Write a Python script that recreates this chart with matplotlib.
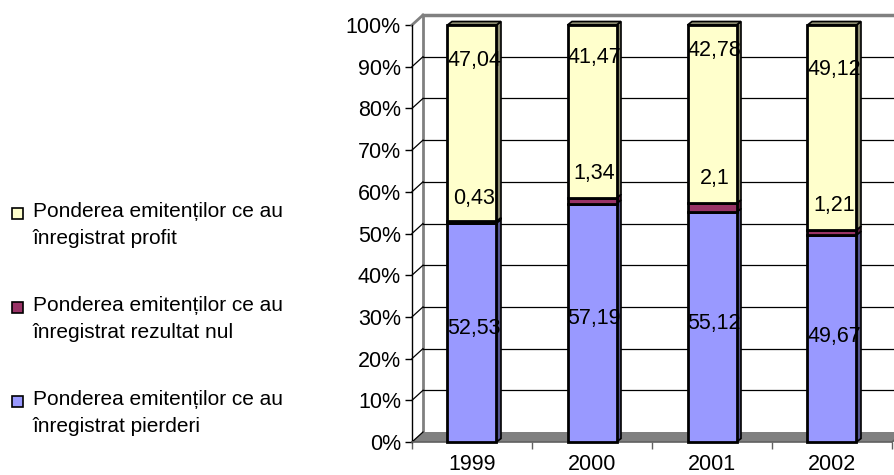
import matplotlib
matplotlib.use("Agg")
import matplotlib.pyplot as plt
from matplotlib.patches import Polygon, Rectangle

plt.rcParams["font.family"] = ["Liberation Sans", "DejaVu Sans"]

# Data
years = ["1999", "2000", "2001", "2002"]
pierderi = [52.53, 57.19, 55.12, 49.67]
nul = [0.43, 1.34, 2.1, 1.21]
profit = [47.04, 41.47, 42.78, 49.12]
series_names = [
    "Ponderea emitenților ce au\nînregistrat profit",
    "Ponderea emitenților ce au\nînregistrat rezultat nul",
    "Ponderea emitenților ce au\nînregistrat pierderi",
]
y_ticks = [0, 10, 20, 30, 40, 50, 60, 70, 80, 90, 100]

# Height (in %) at which each value label sits
label_y_pierderi = [27.3, 29.7, 28.5, 25.4]
label_y_nul = [58.3, 64.3, 63.1, 56.6]
label_y_profit = [91.6, 92.2, 93.8, 89.4]

# Styles
face = {"pierderi": "#9999FF", "nul": "#993366", "profit": "#FFFFCC"}
side = {"pierderi": "#55558F", "nul": "#5C1F3D", "profit": "#8C8C70"}
FS = 15.5
FS_LEG = 15

W, H = 895, 475
fig = plt.figure(figsize=(W / 100, H / 100), dpi=100)

# Plot area: x 0..4 -> 412..892 px, y 0..100 -> 442..25 px
x0, x1, y0, y1 = 412, 892, 442, 25
ax = fig.add_axes([x0 / W, (H - y0) / H, (x1 - x0) / W, (y0 - y1) / H])
ax.set_xlim(0, 4)
ax.set_ylim(0, 100)

px_x = 4 / (x1 - x0)
px_y = 100 / (y0 - y1)
dxw, dyw = 11 * px_x, 10 * px_y      # wall depth
dxb, dyb = 4.5 * px_x, 3.5 * px_y     # bar depth
bw = 49 * px_x                        # bar width
xr = 4.3                              # wall runs past the figure edge

# Floor
ax.add_patch(Polygon([(0, 0), (xr, 0), (xr + dxw, dyw), (dxw, dyw)],
                     closed=True, facecolor="#808080", edgecolor="none",
                     zorder=1, clip_on=False))
# Back wall left edge and top edge
ax.plot([dxw, dxw], [dyw, 100 + dyw], color="#808080", lw=2, zorder=2,
        clip_on=False, solid_capstyle="butt")
ax.plot([dxw, xr + dxw], [100 + dyw, 100 + dyw], color="#808080", lw=2.5,
        zorder=2, clip_on=False)
# Gridlines on the wall and diagonals to the axis
for v in y_ticks[1:-1]:
    ax.plot([dxw, xr + dxw], [v + dyw, v + dyw], color="black", lw=0.9,
            zorder=2, clip_on=False)
for v in y_ticks[:-1]:
    ax.plot([0, dxw], [v, v + dyw], color="black", lw=0.9, zorder=2,
            clip_on=False)
ax.plot([0, dxw], [100, 100 + dyw], color="#808080", lw=2, zorder=2,
        clip_on=False)
# Right edge of the floor
ax.plot([4, 4 + dxw], [0, dyw], color="#606060", lw=1, zorder=2, clip_on=False)


def draw_segment(c, b, h, key, top):
    l, r = c - bw / 2, c + bw / 2
    ax.add_patch(Polygon([(r, b), (r + dxb, b + dyb), (r + dxb, b + h + dyb),
                          (r, b + h)], closed=True, facecolor=side[key],
                         edgecolor="black", lw=1.2, zorder=4, clip_on=False))
    if top:
        ax.add_patch(Polygon([(l, b + h), (l + dxb, b + h + dyb),
                              (r + dxb, b + h + dyb), (r, b + h)],
                             closed=True, facecolor=side[key],
                             edgecolor="black", lw=1.2, zorder=4,
                             clip_on=False))
    ax.add_patch(Rectangle((l, b), bw, h, facecolor=face[key],
                           edgecolor="black", lw=2, zorder=5,
                           clip_on=False))


for i, yr in enumerate(years):
    c = i + 0.5
    b = 0
    for key, vals in (("pierderi", pierderi), ("nul", nul),
                      ("profit", profit)):
        draw_segment(c, b, vals[i], key, key == "profit")
        b += vals[i]
    for vals, ly in ((pierderi, label_y_pierderi), (nul, label_y_nul),
                     (profit, label_y_profit)):
        ax.text(c + 0.02, ly[i], f"{vals[i]:g}".replace(".", ","),
                ha="center", va="center", fontsize=FS, zorder=6)

# Axes, ticks and labels
for s in ("top", "right"):
    ax.spines[s].set_visible(False)
ax.spines["left"].set_color("black")
ax.spines["left"].set_linewidth(1)
ax.spines["bottom"].set_color("#606060")
ax.spines["bottom"].set_linewidth(1.2)
ax.spines["left"].set_zorder(3)
ax.spines["bottom"].set_zorder(3)
ax.set_yticks(y_ticks)
ax.set_yticklabels([f"{v}%" for v in y_ticks])
ax.tick_params(axis="y", length=5, width=1, color="black", pad=3,
               labelsize=FS, direction="out")
ax.set_xticks([i + 0.5 for i in range(len(years))])
ax.set_xticklabels(years)
ax.set_xticks(range(len(years) + 1), minor=True)
ax.tick_params(axis="x", which="major", length=0, pad=9, labelsize=FS)
ax.tick_params(axis="x", which="minor", length=5, width=1, color="#606060",
               direction="out")
ax.patch.set_visible(False)

# Legend
leg_colors = [face["profit"], face["nul"], face["pierderi"]]
leg_y = [213, 307, 401]
for name, col, ly in zip(series_names, leg_colors, leg_y):
    fig.patches.append(Rectangle((12 / W, (H - ly - 6) / H), 11 / W, 11 / H,
                                 transform=fig.transFigure, facecolor=col,
                                 edgecolor="black", lw=1.2))
    fig.text(33 / W, (H - ly + 11) / H, name, fontsize=FS_LEG, va="top",
             ha="left", linespacing=1.5)

fig.savefig("out.png", dpi=100)
